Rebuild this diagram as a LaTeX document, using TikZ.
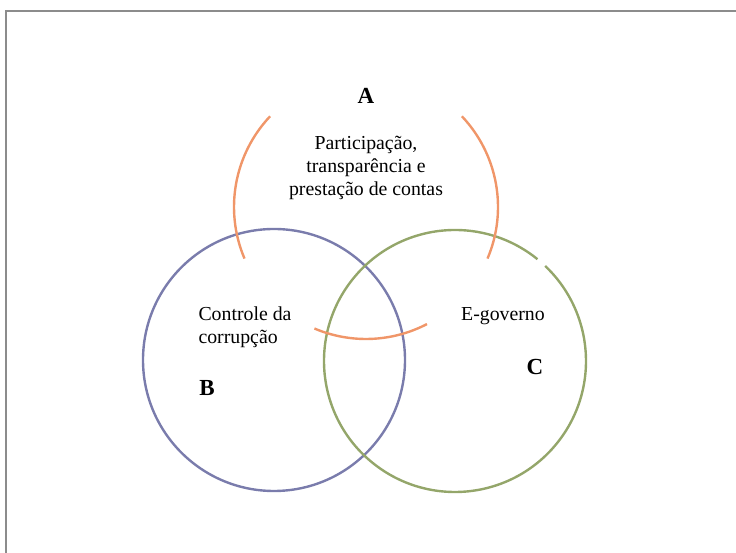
\documentclass[tikz,border=0pt]{standalone}
\usepackage{fontspec}
\setmainfont{Liberation Serif}
\definecolor{frameGrey}{RGB}{140,140,140}
\definecolor{ringA}{RGB}{240,150,105}
\definecolor{ringB}{RGB}{122,124,172}
\definecolor{ringC}{RGB}{148,166,106}

\begin{document}
\begin{tikzpicture}[x = 1pt, y = 1pt]
			    \tikzstyle{frame}=[draw,line width = 1.5pt,-,frameGrey]
			    \tikzstyle{ring}=[draw,line width = 2.4pt,-]
			    \tikzstyle{letter}=[font=\fontsize{23}{27}\selectfont\bfseries]
			    \tikzstyle{words}=[font=\fontsize{19.8}{23}\selectfont]
			    \useasboundingbox (0,0) rectangle (736,553);
			    \draw[frame] (6,0) -- (6,542) -- (736,542);
			    \coordinate (cA) at (366,346);
			    \coordinate (cB) at (274,193);
			    \coordinate (cC) at (455,192);
			    \draw[ring,ringB] (cB) circle (131);
			    \draw[ring,ringC] (cC) ++(51:131) arc[start angle=51, end angle=406.5, radius=131];
			    \draw[ring,ringA] (cA) ++(136.6:132) arc[start angle=136.6, end angle=203, radius=132];
			    \draw[ring,ringA] (cA) ++(-23:132) arc[start angle=-23, end angle=43.4, radius=132];
			    \draw[ring,ringA] (cA) ++(247:132) arc[start angle=247, end angle=297.5, radius=132];
			    \node[letter] (labA) at (366,457) {A};
			    \node[words,align=center] (txtA) at (366,385) {Participação,\\transparência e\\prestação de contas};
			    \node[words,align=left,anchor=west] (txtB) at (195,226) {Controle da\\corrupção};
			    \node[letter] (labB) at (207,165) {B};
			    \node[words] (txtC) at (503,237) {E-governo};
			    \node[letter] (labC) at (535,186) {C};
			\end{tikzpicture}
\end{document}
